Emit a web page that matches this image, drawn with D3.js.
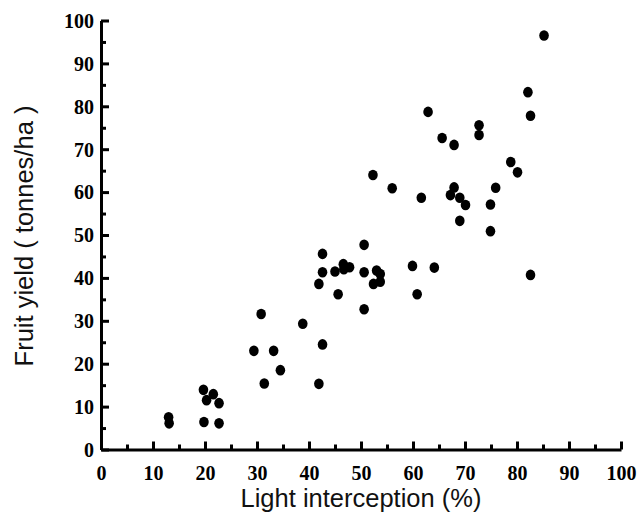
<!DOCTYPE html>
<html>
<head>
<meta charset="utf-8">
<script src="https://cdn.jsdelivr.net/npm/d3@7"></script>
<style>
  body { margin: 0; background: #fff; }
  svg { display: block; }
</style>
</head>
<body>
<div id="chart"></div>
<script>
// light interception (%) vs fruit yield (tonnes/ha)
const lightX = [13.0, 13.1, 19.7, 20.3, 21.6, 22.7, 19.8, 22.7,
  30.8, 29.4, 33.2, 31.4, 34.5, 38.8, 41.9, 42.6,
  41.9, 42.6, 42.6, 45.0, 45.6, 46.6, 46.7, 47.8,
  50.6, 50.6, 50.6, 52.4, 53.0, 53.7, 53.7, 52.3, 56.0,
  59.9, 60.8, 64.1, 61.6, 62.9, 65.6, 67.9, 72.7, 72.7,
  67.9, 67.2, 69.0, 70.1, 69.0, 74.9, 74.9, 75.9,
  78.8, 80.1, 82.1, 82.6, 82.6, 85.2];
const yieldY = [7.5, 6.1, 13.9, 11.5, 12.9, 10.8, 6.4, 6.1,
  31.6, 23.0, 23.0, 15.4, 18.5, 29.3, 15.3, 24.5,
  38.6, 41.3, 45.6, 41.5, 36.2, 43.2, 42.0, 42.5,
  47.7, 41.3, 32.7, 38.6, 41.7, 40.9, 39.1, 64.0, 60.9,
  42.8, 36.2, 42.4, 58.7, 78.7, 72.6, 71.0, 75.6, 73.3,
  61.1, 59.3, 58.7, 57.0, 53.3, 57.1, 50.9, 61.0,
  67.0, 64.6, 83.3, 77.8, 40.7, 96.5];
const majorTicks = [0, 10, 20, 30, 40, 50, 60, 70, 80, 90, 100];
const minorTicks = [5, 15, 25, 35, 45, 55, 65, 75, 85, 95];

const width = 638, height = 519;
const svg = d3.select("#chart").append("svg")
  .attr("width", width)
  .attr("height", height);

const x = d3.scaleLinear().domain([0, 100]).range([101, 621]);
const y = d3.scaleLinear().domain([0, 100]).range([449.5, 20.5]);

const tickFont = "'Liberation Serif', 'Times New Roman', serif";
const titleFont = "'Liberation Sans', Arial, sans-serif";

// minor ticks first
svg.append("g")
  .attr("transform", `translate(0,${y(0)})`)
  .call(d3.axisBottom(x).tickValues(minorTicks).tickSize(-5).tickSizeOuter(0).tickFormat(""))
  .call(g => g.select(".domain").remove());
svg.append("g")
  .attr("transform", `translate(${x(0)},0)`)
  .call(d3.axisLeft(y).tickValues(minorTicks).tickSize(-5).tickSizeOuter(0).tickFormat(""))
  .call(g => g.select(".domain").remove());

const xG = svg.append("g")
  .attr("transform", `translate(0,${y(0)})`)
  .call(d3.axisBottom(x).tickValues(majorTicks).tickSize(-8).tickSizeOuter(0).tickPadding(16));
const yG = svg.append("g")
  .attr("transform", `translate(${x(0)},0)`)
  .call(d3.axisLeft(y).tickValues(majorTicks).tickSize(-8).tickSizeOuter(0).tickPadding(7));

svg.selectAll(".domain, .tick line")
  .attr("stroke", "#000")
  .attr("stroke-width", 3);
svg.selectAll(".tick text")
  .attr("fill", "#000")
  .style("font-family", tickFont)
  .style("font-weight", "bold")
  .style("font-size", "20px");
yG.selectAll(".tick text").attr("dy", "0.34em");

// points
svg.append("g")
  .selectAll("ellipse")
  .data(lightX.map((v, i) => [v, yieldY[i]]))
  .join("ellipse")
  .attr("cx", d => x(d[0]))
  .attr("cy", d => y(d[1]))
  .attr("rx", 4.8)
  .attr("ry", 5.3)
  .attr("fill", "#000");

// axis titles
svg.append("text")
  .attr("x", 361)
  .attr("y", 507)
  .attr("text-anchor", "middle")
  .style("font-family", titleFont)
  .style("font-size", "25.5px")
  .attr("fill", "#111")
  .text("Light interception (%)");

svg.append("text")
  .attr("transform", "translate(33,236) rotate(-90)")
  .attr("text-anchor", "middle")
  .style("font-family", titleFont)
  .style("font-size", "25.5px")
  .attr("fill", "#111")
  .text("Fruit yield ( tonnes/ha )");
</script>
</body>
</html>
